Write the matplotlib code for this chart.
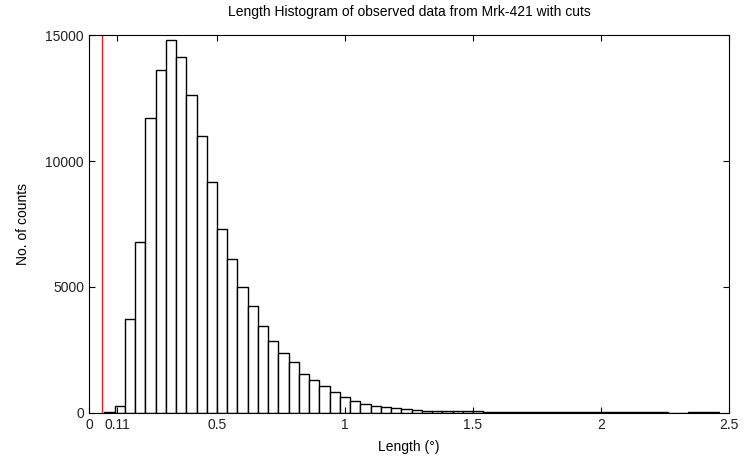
import matplotlib.pyplot as plt
import numpy as np

plt.rcParams['font.family'] = ['Liberation Sans', 'DejaVu Sans']

# histogram data (bin width 0.04, first edge 0.06)
bin_start = 0.06
bin_width = 0.04
counts = [30, 265, 3715, 6778, 11711, 13605, 14814, 14122, 12626, 10979,
          9149, 7308, 6102, 4988, 4245, 3437, 2840, 2363, 2017, 1539,
          1290, 1050, 811, 610, 465, 334, 278, 215, 200, 135,
          125, 80, 75,
          # long tail
          60, 55, 50, 48, 45, 42, 40, 38, 36, 35,
          34, 33, 32, 31, 30, 30, 29, 28, 28, 27,
          26, 26, 0, 0, 25, 25, 24]
cut_x = 0.05
xticks = [0, 0.11, 0.5, 1, 1.5, 2, 2.5]
xticklabels = ['0', '0.11', '0.5', '1', '1.5', '2', '2.5']
yticks = [0, 5000, 10000, 15000]

edges = bin_start + bin_width * np.arange(len(counts))

fig = plt.figure(figsize=(7.54, 4.58), dpi=100)
ax = fig.add_axes([0.118, 0.099, 0.849, 0.824])

ax.bar(edges, counts, width=bin_width, align='edge',
       facecolor='white', edgecolor='black', linewidth=1.0)
ax.axvline(cut_x, color='#e0202a', linewidth=1.0)

ax.set_xlim(0, 2.5)
ax.set_ylim(0, 15000)
ax.set_xticks(xticks)
ax.set_xticklabels(xticklabels)
ax.set_yticks(yticks)
ax.tick_params(direction='in', top=True, right=True, labelsize=10, length=4,
               labelcolor='#222222')

ax.set_title('Length Histogram of observed data from Mrk-421 with cuts',
             fontsize=10, pad=14)
ax.set_xlabel('Length (°)', fontsize=10, labelpad=6)
ax.set_ylabel('No. of counts', fontsize=10, labelpad=11)

fig.savefig('out.png', dpi=100)
